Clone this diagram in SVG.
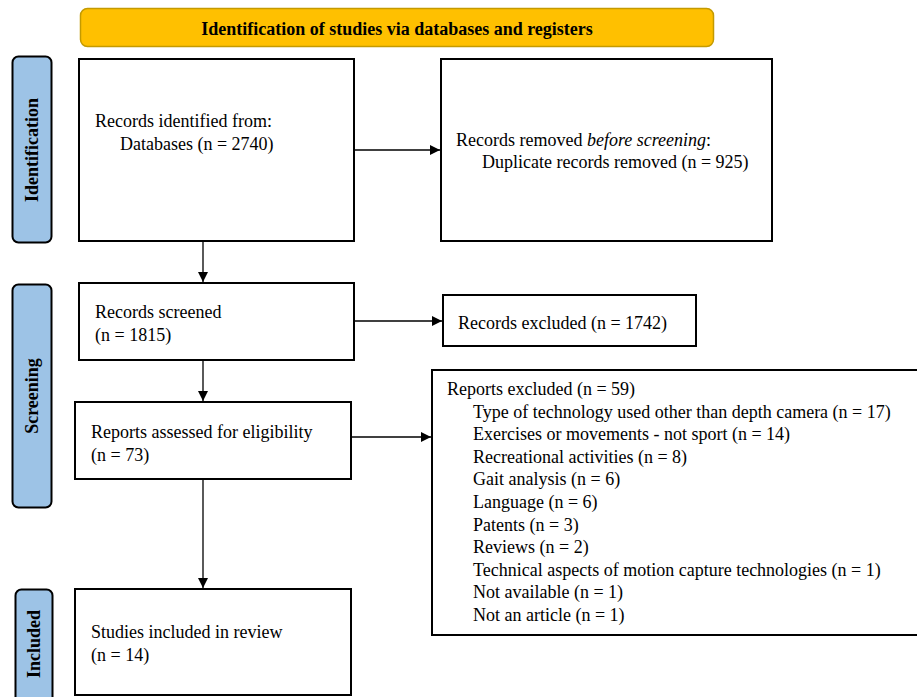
<svg xmlns="http://www.w3.org/2000/svg" width="917" height="697" viewBox="0 0 917 697">
<style>
.box{fill:#fff;stroke:#000;stroke-width:2}
.side{fill:#9DC3E6;stroke:#000;stroke-width:2}
.t{font-family:"Liberation Serif",serif;font-size:18px;fill:#000}
.sb{font-family:"Liberation Serif",serif;font-size:18px;font-weight:bold;fill:#000;text-anchor:middle}
.c{stroke:#000;stroke-width:1.3;fill:none;marker-end:url(#ah)}
</style>
<defs>
<marker id="ah" viewBox="0 0 10 10" refX="10" refY="5" markerWidth="10" markerHeight="10" markerUnits="userSpaceOnUse" orient="auto">
<path d="M0,0 L10,5 L0,10 Z" fill="#000"/>
</marker>
</defs>
<g id="header">
<rect x="80.5" y="8.5" width="633" height="38" rx="7" fill="#FFC000" stroke="#C49A00" stroke-width="1.5"/>
<text class="sb" x="397" y="35">Identification of studies via databases and registers</text>
</g>
<g id="side-identification">
<rect class="side" x="12.5" y="56.5" width="39" height="186" rx="6"/>
<text class="sb" transform="translate(38,150) rotate(-90)">Identification</text>
</g>
<g id="side-screening">
<rect class="side" x="12.5" y="284.5" width="39" height="223" rx="6"/>
<text class="sb" transform="translate(38,396) rotate(-90)">Screening</text>
</g>
<g id="side-included">
<rect class="side" x="15.5" y="589.5" width="37" height="115" rx="6"/>
<text class="sb" transform="translate(40,644) rotate(-90)">Included</text>
</g>
<g id="records-identified">
<rect class="box" x="79" y="59" width="275" height="182"/>
<text class="t" x="95" y="127">Records identified from:</text>
<text class="t" x="120" y="150">Databases (n = 2740)</text>
</g>
<g id="records-removed">
<rect class="box" x="441" y="59" width="331" height="182"/>
<text class="t" x="456" y="146">Records removed <tspan font-style="italic">before screening</tspan>:</text>
<text class="t" x="482" y="168">Duplicate records removed (n = 925)</text>
</g>
<g id="records-screened">
<rect class="box" x="79" y="283" width="275" height="77"/>
<text class="t" x="95" y="318">Records screened</text>
<text class="t" x="95" y="341">(n = 1815)</text>
</g>
<g id="records-excluded">
<rect class="box" x="443" y="295" width="253" height="51"/>
<text class="t" x="458" y="329">Records excluded (n = 1742)</text>
</g>
<g id="reports-assessed">
<rect class="box" x="75" y="402" width="276" height="77"/>
<text class="t" x="91" y="438">Reports assessed for eligibility</text>
<text class="t" x="91" y="461">(n = 73)</text>
</g>
<g id="reports-excluded">
<rect class="box" x="432" y="370" width="490" height="265"/>
<text class="t" x="447" y="395">Reports excluded (n = 59)</text>
<text class="t" x="473" y="418">Type of technology used other than depth camera (n = 17)</text>
<text class="t" x="473" y="440">Exercises or movements - not sport (n = 14)</text>
<text class="t" x="473" y="463">Recreational activities (n = 8)</text>
<text class="t" x="473" y="485">Gait analysis (n = 6)</text>
<text class="t" x="473" y="508">Language (n = 6)</text>
<text class="t" x="473" y="531">Patents (n = 3)</text>
<text class="t" x="473" y="553">Reviews (n = 2)</text>
<text class="t" x="473" y="576">Technical aspects of motion capture technologies (n = 1)</text>
<text class="t" x="473" y="598">Not available (n = 1)</text>
<text class="t" x="473" y="621">Not an article (n = 1)</text>
</g>
<g id="studies-included">
<rect class="box" x="75" y="589" width="276" height="106"/>
<text class="t" x="91" y="638">Studies included in review</text>
<text class="t" x="91" y="661">(n = 14)</text>
</g>
<g id="connectors">
<line class="c" x1="355" y1="150" x2="440" y2="150"/>
<line class="c" x1="203" y1="242" x2="203" y2="282"/>
<line class="c" x1="355" y1="321" x2="442" y2="321"/>
<line class="c" x1="203" y1="361" x2="203" y2="401"/>
<line class="c" x1="352" y1="437" x2="431" y2="437"/>
<line class="c" x1="203" y1="480" x2="203" y2="588"/>
</g>
</svg>
